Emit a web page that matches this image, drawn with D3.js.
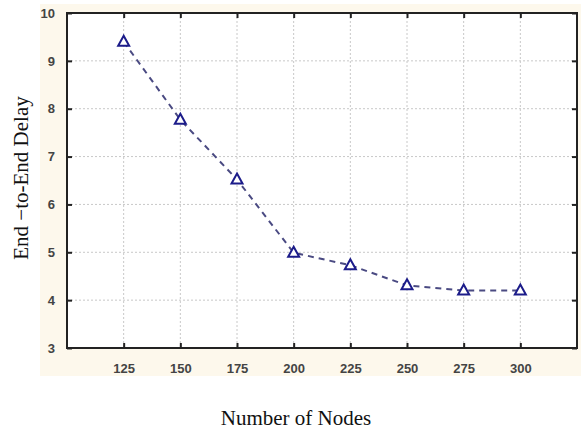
<!DOCTYPE html>
<html>
<head>
<meta charset="utf-8">
<script src="https://cdn.jsdelivr.net/npm/d3@7"></script>
<style>
  body { margin: 0; background: #fff; }
  svg { display: block; }
</style>
</head>
<body>
<svg id="chart" width="581" height="432"></svg>
<script>
// data
var nodes = [125, 150, 175, 200, 225, 250, 275, 300];
var delay = [9.4, 7.77, 6.52, 4.99, 4.73, 4.31, 4.2, 4.2];
var yTicks = [3, 4, 5, 6, 7, 8, 9, 10];

(function() {
  var svg = d3.select("#chart");

  // plot box
  var pLeft = 67, pRight = 577, pTop = 13, pBottom = 348;

  var x = d3.scaleLinear().domain([100, 325]).range([pLeft, pRight]);
  var y = d3.scaleLinear().domain([3, 10]).range([pBottom, pTop]);

  // cream panel behind the axes
  svg.append("rect")
    .attr("x", 40).attr("y", 4)
    .attr("width", 541).attr("height", 372)
    .attr("fill", "#fdf8ec");

  svg.append("rect")
    .attr("x", pLeft).attr("y", pTop)
    .attr("width", pRight - pLeft).attr("height", pBottom - pTop)
    .attr("fill", "#fff");

  // grid
  var grid = svg.append("g")
    .attr("stroke", "#c8c8c8")
    .attr("stroke-dasharray", "2,2")
    .attr("stroke-width", 1);
  grid.selectAll("line.gx")
    .data(nodes)
    .enter()
    .append("line")
    .attr("class", "gx")
    .attr("x1", function(d) { return x(d); })
    .attr("x2", function(d) { return x(d); })
    .attr("y1", pTop)
    .attr("y2", pBottom);
  grid.selectAll("line.gy")
    .data(yTicks.slice(1, -1))
    .enter()
    .append("line")
    .attr("class", "gy")
    .attr("x1", pLeft)
    .attr("x2", pRight)
    .attr("y1", function(d) { return y(d); })
    .attr("y2", function(d) { return y(d); });

  // axes (ticks inward, MATLAB style)
  var tickFont = function(g) {
    g.selectAll("text")
      .attr("font-family", "Liberation Sans, Arial, sans-serif")
      .attr("font-size", 13)
      .attr("font-weight", "bold")
      .attr("fill", "#444");
    g.select(".domain").remove();
    g.selectAll(".tick line").attr("stroke", "#222").attr("stroke-width", 2);
  };

  svg.append("g")
    .attr("transform", "translate(0," + pBottom + ")")
    .call(d3.axisBottom(x).tickValues(nodes).tickSize(-5).tickPadding(16))
    .call(tickFont);

  svg.append("g")
    .attr("transform", "translate(0," + pTop + ")")
    .call(d3.axisTop(x).tickValues(nodes).tickSize(-5).tickFormat(""))
    .call(tickFont);

  svg.append("g")
    .attr("transform", "translate(" + pLeft + ",0)")
    .call(d3.axisLeft(y).tickValues(yTicks).tickFormat(d3.format("d")).tickSize(-5).tickPadding(12))
    .call(tickFont);

  svg.append("g")
    .attr("transform", "translate(" + pRight + ",0)")
    .call(d3.axisRight(y).tickValues(yTicks).tickSize(-5).tickFormat(""))
    .call(tickFont);

  // frame
  svg.append("rect")
    .attr("x", pLeft).attr("y", pTop)
    .attr("width", pRight - pLeft).attr("height", pBottom - pTop)
    .attr("fill", "none")
    .attr("stroke", "#222")
    .attr("stroke-width", 2);

  // series
  var pts = nodes.map(function(d, i) { return [d, delay[i]]; });

  svg.append("path")
    .datum(pts)
    .attr("fill", "none")
    .attr("stroke", "#4a4a82")
    .attr("stroke-width", 2)
    .attr("stroke-dasharray", "6,5")
    .attr("d", d3.line()
      .x(function(d) { return x(d[0]); })
      .y(function(d) { return y(d[1]); }));

  svg.selectAll("path.marker")
    .data(pts)
    .enter()
    .append("path")
    .attr("class", "marker")
    .attr("transform", function(d) { return "translate(" + x(d[0]) + "," + y(d[1]) + ")"; })
    .attr("d", "M0,-6L5.5,4L-5.5,4Z")
    .attr("fill", "#fff")
    .attr("stroke", "#1c1c8a")
    .attr("stroke-width", 2);

  // axis titles
  svg.append("text")
    .attr("x", 296)
    .attr("y", 425)
    .attr("text-anchor", "middle")
    .attr("font-family", "Liberation Serif, Times New Roman, serif")
    .attr("font-size", 21)
    .attr("fill", "#111")
    .text("Number of Nodes");

  svg.append("text")
    .attr("transform", "translate(28,178) rotate(-90)")
    .attr("text-anchor", "middle")
    .attr("font-family", "Liberation Serif, Times New Roman, serif")
    .attr("font-size", 21)
    .attr("fill", "#111")
    .text("End \u2212to-End Delay");
})();
</script>
</body>
</html>
